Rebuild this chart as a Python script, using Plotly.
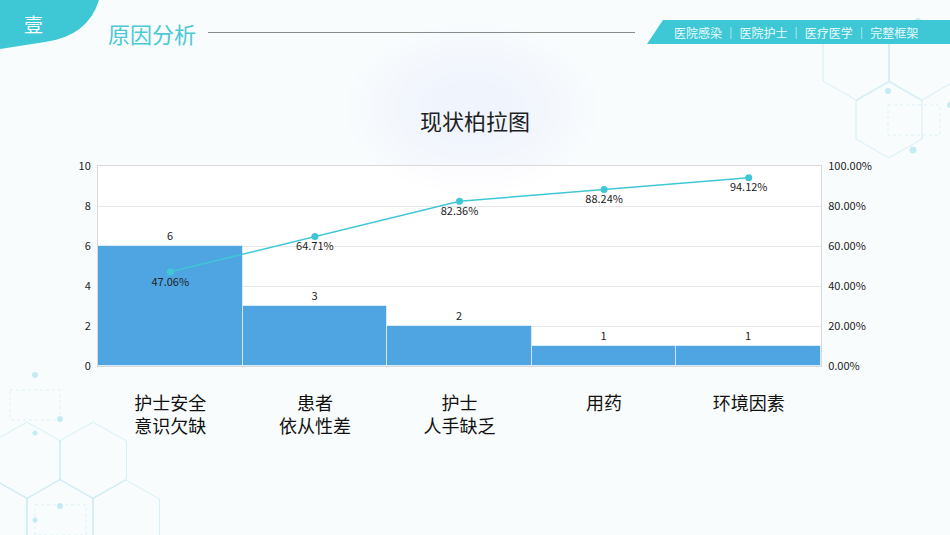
import plotly.graph_objects as go

categories = ["护士安全<br>意识欠缺", "患者<br>依从性差", "护士<br>人手缺乏", "用药", "环境因素"]
counts = [6, 3, 2, 1, 1]
cum_pct = [0.4706, 0.6471, 0.8236, 0.8824, 0.9412]
cum_labels = ["47.06%", "64.71%", "82.36%", "88.24%", "94.12%"]

W, H = 950, 535
FONT = "Noto Sans CJK SC"
TEAL = "#3ec8d5"
BAR = "#4fa5e2"


def px(x):
    return x / W


def py(y):
    return 1 - y / H


def path(points, close=True):
    s = "M " + " L ".join(f"{px(x):.5f},{py(y):.5f}" for x, y in points)
    return s + (" Z" if close else "")


fig = go.Figure()
fig.add_trace(go.Bar(
    x=categories, y=counts, marker=dict(color=BAR, line=dict(color="rgba(255,255,255,0.55)", width=1)),
    text=[str(v) for v in counts], textposition="outside",
    textfont=dict(size=11, color="#222", family=FONT), cliponaxis=False, showlegend=False,
))
fig.add_trace(go.Scatter(
    x=categories, y=cum_pct, yaxis="y2", mode="lines+markers+text",
    line=dict(color=TEAL, width=1.5), marker=dict(color=TEAL, size=7),
    text=cum_labels, textposition="bottom center",
    textfont=dict(size=11, color="#222", family=FONT), showlegend=False, cliponaxis=False,
))

shapes = []
hex_col = "rgba(150,215,228,0.35)"


def hexagon(cx, cy, w, h):
    return [(cx, cy - h / 2), (cx + w / 2, cy - h / 4), (cx + w / 2, cy + h / 4),
            (cx, cy + h / 2), (cx - w / 2, cy + h / 4), (cx - w / 2, cy - h / 4)]


for cx, cy in [(27, 460), (93, 460), (60, 518), (126, 518), (-6, 518)]:
    shapes.append(dict(type="path", xref="paper", yref="paper", path=path(hexagon(cx, cy, 67, 76)),
                       line=dict(color=hex_col, width=1), layer="below"))
for cx, cy in [(856, 62), (922, 62), (889, 120)]:
    shapes.append(dict(type="path", xref="paper", yref="paper", path=path(hexagon(cx, cy, 66, 76)),
                       line=dict(color=hex_col, width=1), layer="below"))
for pts in [[(10, 390), (60, 390), (60, 420), (10, 420)], [(888, 105), (940, 105), (940, 135), (888, 135)],
            [(35, 505), (86, 505), (86, 535), (35, 535)]]:
    shapes.append(dict(type="path", xref="paper", yref="paper", path=path(pts),
                       line=dict(color="rgba(170,220,230,0.35)", width=1, dash="dot"), layer="below"))
for cx, cy, r in [(35, 375, 3), (60, 419, 3), (35, 433, 2.5), (60, 506, 3), (35, 520, 2.5),
                  (888, 91, 3), (913, 150, 3.5), (918, 21, 3), (950, 105, 3)]:
    shapes.append(dict(type="circle", xref="paper", yref="paper", x0=px(cx - r), x1=px(cx + r),
                       y0=py(cy + r), y1=py(cy - r), fillcolor="rgba(140,215,228,0.45)",
                       line=dict(width=0), layer="below"))
# soft glow behind the title, many faint layers
for i in range(8):
    rx, ry = 125 - i * 12, 85 - i * 8
    shapes.append(dict(type="circle", xref="paper", yref="paper", x0=px(472 - rx), x1=px(472 + rx),
                       y0=py(108 + ry), y1=py(108 - ry), fillcolor="rgba(195,205,220,0.012)",
                       line=dict(width=0), layer="below"))
shapes.append(dict(type="path", xref="paper", yref="paper",
                   path=f"M {px(0)},{py(0)} L {px(99)},{py(0)} Q {px(88)},{py(36)} {px(45)},{py(42)} L {px(0)},{py(49)} Z",
                   fillcolor=TEAL, line=dict(width=0)))
shapes.append(dict(type="line", xref="paper", yref="paper", x0=px(208), x1=px(635), y0=py(32.5), y1=py(32.5),
                   line=dict(color="#8a8a8a", width=1)))
shapes.append(dict(type="path", xref="paper", yref="paper",
                   path=path([(663, 20), (950, 20), (950, 44), (647, 44)]),
                   fillcolor=TEAL, line=dict(width=0)))


def ann(text, x, y, size, color):
    return dict(text=text, x=px(x), y=py(y), xref="paper", yref="paper", showarrow=False,
                xanchor="center", yanchor="middle", font=dict(size=size, color=color, family=FONT))


annotations = [
    ann("壹", 33, 24, 19, "white"),
    ann("原因分析", 152, 33, 22, "#4cc8d6"),
    ann("医院感染 ｜ 医院护士 ｜ 医疗医学 ｜ 完整框架", 796, 32, 12, "#eafafc"),
    ann("现状柏拉图", 475, 120, 22, "#1f1f1f"),
]

fig.update_layout(
    width=W, height=H, margin=dict(l=0, r=0, t=0, b=0, pad=0), autosize=False,
    paper_bgcolor="#f8fcfd", plot_bgcolor="white",
    font=dict(family=FONT, color="#222"),
    bargap=0, shapes=shapes, annotations=annotations,
    xaxis=dict(domain=[px(98), px(821)], showline=True, linecolor="#d9d9d9", mirror=True, automargin=False,
               tickfont=dict(size=18, color="#111", family=FONT), ticklabelstandoff=21, ticks=""),
    yaxis=dict(domain=[py(366), py(166)], range=[0, 10], dtick=2, gridcolor="#e8e8e8", automargin=False,
               showline=True, linecolor="#d9d9d9", zeroline=False,
               tickfont=dict(size=11, color="#222"), ticks="", ticklabelstandoff=4),
    yaxis2=dict(overlaying="y", side="right", range=[0, 1], dtick=0.2, tickformat=".2%", automargin=False,
                showgrid=False, showline=True, linecolor="#d9d9d9", zeroline=False,
                tickfont=dict(size=11, color="#222"), ticks="", ticklabelstandoff=4),
)

fig.write_html("out.html", config={"displayModeBar": False},
               post_script="document.body.style.margin='0';document.body.style.overflow='hidden';")
